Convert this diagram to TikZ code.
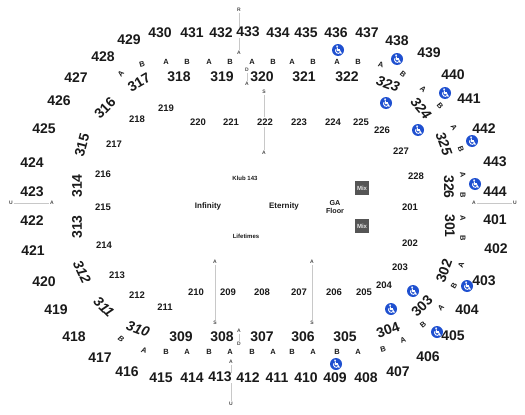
\documentclass[tikz,border=0pt]{standalone}
\usepackage{fontspec}
\setmainfont{Liberation Sans}
\definecolor{ink}{HTML}{1A1A1A}
\definecolor{wcblue}{HTML}{1F50D0}
\definecolor{rulegray}{HTML}{C8C8C8}
\definecolor{mixgray}{HTML}{555555}
\tikzset{
  upper/.style={font=\fontsize{14}{14}\bfseries\selectfont,text=ink,inner sep=0.5pt},
  mid/.style={upper},
  midi/.style={upper,font=\fontsize{14}{14}\bfseries\itshape\selectfont},
  low/.style={font=\fontsize{9.5}{10}\bfseries\selectfont,text=ink,inner sep=0.5pt},
  cut/.style={fill=white,text height=0.72em,text depth=0pt,inner sep=1pt},
  row/.style={font=\fontsize{7.5}{8}\bfseries\selectfont,text=ink,inner sep=0pt},
  rowi/.style={row,font=\fontsize{7.5}{8}\bfseries\itshape\selectfont},
  tiny/.style={font=\fontsize{5}{5}\bfseries\selectfont,text=ink!80,inner sep=0.6pt},
  area/.style={font=\fontsize{8}{8}\bfseries\selectfont,text=ink,inner sep=0pt},
  floorlabel/.style={font=\fontsize{7.2}{8.5}\bfseries\selectfont,text=ink,inner sep=0pt,align=center},
  areas/.style={font=\fontsize{6}{6}\bfseries\selectfont,text=ink,inner sep=0pt},
  aisle/.style={rulegray,line width=0.9pt},
  mixbox/.style={fill=mixgray,minimum size=14pt,inner sep=0pt,text=white!90!black,font=\fontsize{6}{6}\bfseries\selectfont},
  wcdisc/.style={circle,fill=wcblue,minimum size=12pt,inner sep=0pt},
  pics/wheel/.style={code={
    \fill[white] (-0.9,-3.7) circle (0.95);
    \draw[white,line width=1pt] (-0.8,-2.6) -- (-0.5,0.7) -- (1.8,0.7) -- (2.9,3.2) -- (3.7,2.9);
    \draw[white,line width=0.8pt] (-0.7,-1) -- (1.6,-1);
    \draw[white,line width=0.9pt] (-2,-0.9) arc[start angle=215,end angle=45,radius=2.7];
  }}
}
\newcommand{\wc}[3]{\node[wcdisc] (#1) at (#2,#3) {}; \pic[x=1pt,y=-1pt] at (#1) {wheel};}
\begin{document}
\begin{tikzpicture}[x=1pt,y=-1pt]
\useasboundingbox (0,0) rectangle (525,415);
% aisle labels
\node[tiny] (r1) at (239,10) {R};
\node[tiny] (r2) at (239,53) {A};
\node[tiny] (d1) at (247,70) {D};
\node[tiny] (d2) at (247,84) {A};
\node[tiny] (d3) at (239,331) {A};
\node[tiny] (d4) at (239,344) {D};
\node[tiny] (s1) at (264,92) {S};
\node[tiny] (s2) at (264,153) {A};
\node[tiny] (a1) at (215,262) {A};
\node[tiny] (a2) at (215,323) {S};
\node[tiny] (a3) at (312,262) {A};
\node[tiny] (a4) at (312,323) {S};
\node[tiny] (u1) at (231,362) {A};
\node[tiny] (u2) at (231,404) {U};
\node[tiny] (l1) at (11,203) {U};
\node[tiny] (l2) at (52,203) {A};
\node[tiny] (e1) at (474,203) {A};
\node[tiny] (e2) at (515,203) {U};
\draw[aisle] (r1)--(r2);
\draw[aisle] (d1)--(d2);
\draw[aisle] (d3)--(d4);
\draw[aisle] (s1)--(s2);
\draw[aisle] (a1)--(a2);
\draw[aisle] (a3)--(a4);
\draw[aisle] (u1)--(u2);
\draw[aisle] (l1)--(l2);
\draw[aisle] (e1)--(e2);
% 400 level
\node[upper,cut] (n433) at (248,33) {433};
\node[upper,cut] (n413) at (220,378) {413};
\foreach \t/\x/\y in {430/160/33,431/192/33,432/221/33,429/129/40,428/103/57,427/76/78,426/59/101,425/44/129,424/32/163,423/32/192,
434/278/33,435/306/33,436/336/33,437/367/33,438/397/41,439/429/53,440/453/75,441/469/99,442/484/129,443/495/162,444/495/192,
401/495/220,402/496/249,403/484/281,404/467/310,405/453/336,406/428/357,407/398/372,408/366/378,409/335/378,410/306/378,411/277/378,
412/248/378,414/192/378,415/161/378,416/127/372,417/100/358,418/74/337,419/56/310,420/44/282,421/33/251,422/32/221}
  \node[upper] (n\t) at (\x,\y) {\t};
% 300 level
\foreach \t/\x/\y/\r in {318/179/77/0,319/222/77/0,320/262/77/0,321/304/77/0,322/347/77/0,
317/139/82/30,316/105/108/45,315/82/145/75,314/77/186/90,313/77/227/90,
309/181/337/0,308/222/337/0,307/262/337/0,306/303/337/0,305/345/337/0,
304/388/330/20,303/422/306/45,302/444/271/70,301/450/226/-90,326/449/187/-90}
  \node[mid,rotate=\r] (n\t) at (\x,\y) {\t};
\foreach \t/\x/\y/\r in {312/82/272/-65,311/104/307/-45,310/138/329/-20,323/388/84/-20,324/421/108/-50,325/444/144/-70}
  \node[midi,rotate=\r] (n\t) at (\x,\y) {\t};
% 200 level
\node[low,cut] (n222) at (265,122) {222};
\foreach \t/\x/\y in {219/166/108,218/137/119,217/114/144,216/103/174,215/103/207,220/198/122,221/231/122,223/299/122,224/333/122,225/361/122,226/382/130,227/401/151,228/416/176,201/410/207,202/410/243,203/400/267,204/384/285,205/364/292,206/334/292,207/299/292,208/262/292,209/228/292,210/196/292,211/165/307,212/137/295,213/117/275,214/104/245}
  \node[low] (n\t) at (\x,\y) {\t};
% row letters
\foreach \i/\t/\x/\y/\r in {1/A/121/74/50,2/B/142/64/15,3/A/166/62/0,4/B/187/62/0,5/A/209/62/0,6/B/230/62/0,7/A/252/62/0,8/B/273/62/0,9/A/292/62/0,10/B/313/62/0,11/A/337/62/0,12/B/358/62/0,13/A/381/65/-15,14/B/403/74/-40,15/A/423/89/-40,16/B/440/106/-50,17/A/454/128/-60,18/B/461/149/-70,19/A/463/175/-80,20/B/463/195/-90,21/A/463/218/-90,22/B/463/238/-90,23/A/461/265/70,24/B/454/286/60,25/A/441/308/45,26/B/423/325/40,27/A/403/340/20,28/B/383/349/15,29/A/358/352/0,30/B/337/352/0,31/A/313/352/0,32/B/292/352/0,33/A/273/352/0,34/B/252/352/0,35/A/230/352/0,36/B/209/352/0,37/A/187/352/0,38/B/166/352/0}
  \node[row,rotate=\r] (row\i) at (\x,\y) {\t};
\node[rowi,rotate=-10] (row39) at (144,350) {A};
\node[rowi,rotate=-35] (row40) at (121,339) {B};
% areas
\node[areas] (klub) at (245,178) {Klub 143};
\node[area] (inf) at (208,206) {Infinity};
\node[area] (ete) at (284,206) {Eternity};
\node[floorlabel] (ga) at (335,207) {GA\\Floor};
\node[areas] (life) at (246,236) {Lifetimes};
\node[mixbox] (mix1) at (362,188) {Mix};
\node[mixbox] (mix2) at (362,226) {Mix};
% accessible seating
\wc{w1}{338}{50}
\wc{w2}{397}{59}
\wc{w3}{386}{103}
\wc{w4}{445}{93}
\wc{w5}{418}{130}
\wc{w6}{472}{141}
\wc{w7}{475}{184}
\wc{w8}{413}{291}
\wc{w9}{391}{309}
\wc{w10}{467}{286}
\wc{w11}{437}{332}
\wc{w12}{336}{364}
\end{tikzpicture}
\end{document}
